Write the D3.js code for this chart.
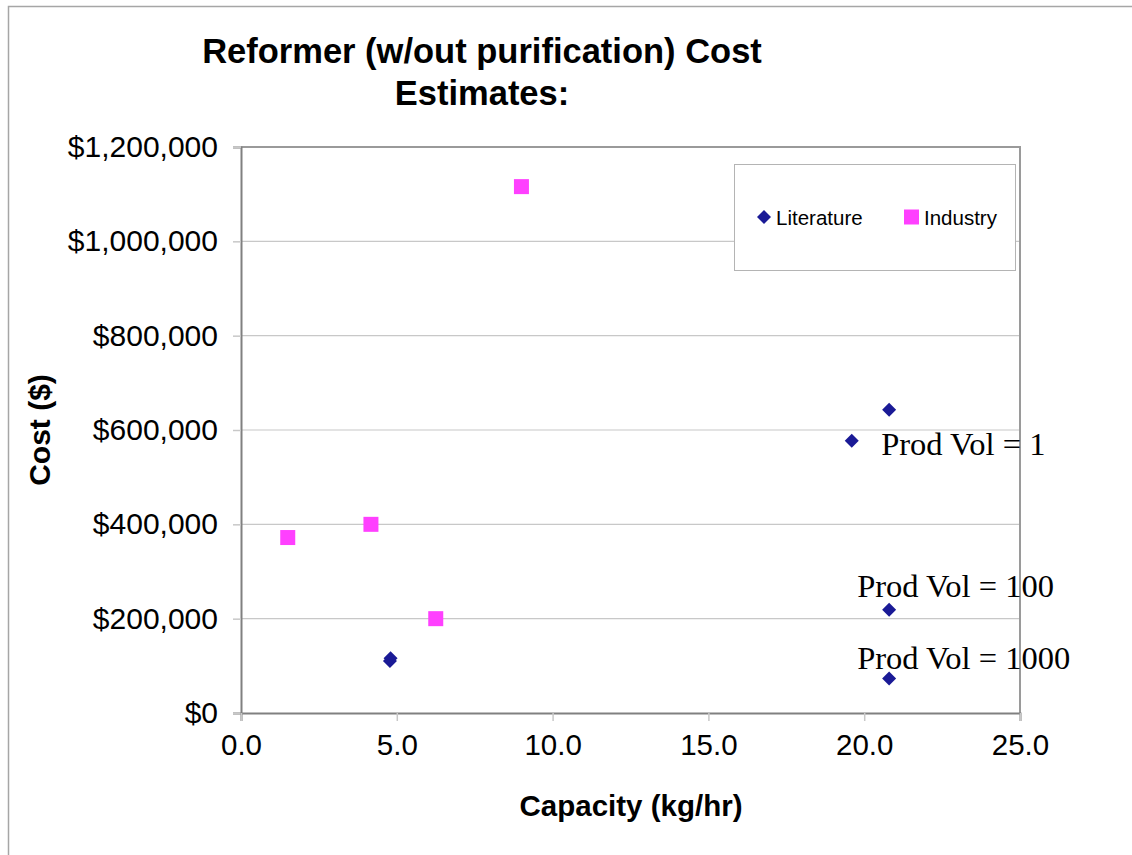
<!DOCTYPE html>
<html><head><meta charset="utf-8">
<script src="https://cdn.jsdelivr.net/npm/d3@7"></script>
<style>body{margin:0;background:#fff}svg{display:block}</style>
</head><body>
<script>
const litX = [4.8, 4.78, 19.6, 20.8, 20.8, 20.8];
const litY = [116000, 110000, 577000, 643000, 219000, 73000];
const indX = [9.0, 1.5, 4.17, 6.25];
const indY = [1116000, 372000, 400000, 200000];
const xTicks = [0, 5, 10, 15, 20, 25];
const yTicks = [0, 200000, 400000, 600000, 800000, 1000000, 1200000];
const annotations = [
  {text: "Prod Vol = 1", x: 20.8, y: 577000, dx: -8, dy: 14},
  {text: "Prod Vol = 100", x: 20.8, y: 219000, dx: -32, dy: -13},
  {text: "Prod Vol = 1000", x: 20.8, y: 73000, dx: -32, dy: -10}
];
const seriesNames = ["Literature", "Industry"];

const W = 1132, H = 855;
const L = 241, R = 1020, T = 147, B = 713;
const svg = d3.select("body").append("svg").attr("width", W).attr("height", H);
svg.append("rect").attr("x",0).attr("y",0).attr("width",W).attr("height",H).attr("fill","#fff");
svg.append("path").attr("d", `M8.5,${H} V6.5 H${W}`).attr("fill","none").attr("stroke","#a6a6a6").attr("stroke-width",1.5);

const x = d3.scaleLinear().domain([0,25]).range([L,R]);
const y = d3.scaleLinear().domain([0,1200000]).range([B,T]);
const sans = "Arial, 'Liberation Sans', sans-serif";

svg.append("g").selectAll("line").data(yTicks.slice(1)).join("line")
  .attr("x1",L).attr("x2",R).attr("y1",d=>y(d)).attr("y2",d=>y(d))
  .attr("stroke","#c8c8c8").attr("stroke-width",1.2);
svg.append("path").attr("d",`M${L},${T} H${R} V${B}`).attr("fill","none").attr("stroke","#9a9a9a").attr("stroke-width",2);

const fmt = d => "$" + d3.format(",")(d);
const ya = svg.append("g").attr("transform",`translate(${L},0)`)
  .call(d3.axisLeft(y).tickValues(yTicks).tickFormat(fmt).tickSize(8).tickPadding(15));
ya.select(".domain").attr("stroke","#808080").attr("stroke-width",2);
ya.selectAll(".tick line").attr("stroke","#c8c8c8").attr("stroke-width",1.5);
ya.selectAll("text").attr("font-family",sans).attr("font-size",30).attr("fill","#000");

const xa = svg.append("g").attr("transform",`translate(0,${B})`)
  .call(d3.axisBottom(x).tickValues(xTicks).tickFormat(d3.format(".1f")).tickSize(8).tickPadding(13));
xa.select(".domain").attr("stroke","#808080").attr("stroke-width",2);
xa.selectAll(".tick line").attr("stroke","#c8c8c8").attr("stroke-width",1.5);
xa.selectAll("text").attr("font-family",sans).attr("font-size",29.5).attr("fill","#000");

const litColor = "#1a1a96", indColor = "#ff40ff";
const diamond = (cx,cy,r) => `M${cx},${cy-r} L${cx+r},${cy} L${cx},${cy+r} L${cx-r},${cy} Z`;
svg.append("g").selectAll("path").data(litX.map((d,i)=>[d,litY[i]])).join("path")
  .attr("d", d => diamond(x(d[0]), y(d[1]), 7)).attr("fill", litColor);
svg.append("g").selectAll("rect").data(indX.map((d,i)=>[d,indY[i]])).join("rect")
  .attr("x", d => x(d[0])-7.5).attr("y", d => y(d[1])-7.5).attr("width",15).attr("height",15)
  .attr("fill", indColor);

svg.append("g").selectAll("text").data(annotations).join("text")
  .attr("x", d => x(d.x)+d.dx).attr("y", d => y(d.y)+d.dy)
  .attr("font-family","'Liberation Serif', 'Times New Roman', serif").attr("font-size",32.5).attr("fill","#000")
  .text(d => d.text);

const lg = svg.append("g");
lg.append("rect").attr("x",734.5).attr("y",164.5).attr("width",281).attr("height",106)
  .attr("fill","#fff").attr("stroke","#b4b4b4").attr("stroke-width",1);
lg.append("path").attr("d", diamond(764,217,7)).attr("fill",litColor);
lg.append("text").attr("x",776).attr("y",225).text(seriesNames[0])
  .attr("font-family",sans).attr("font-size",20.5);
lg.append("rect").attr("x",904).attr("y",209.5).attr("width",15).attr("height",15).attr("fill",indColor);
lg.append("text").attr("x",924).attr("y",225).text(seriesNames[1])
  .attr("font-family",sans).attr("font-size",20.5);

const title = svg.append("text").attr("text-anchor","middle")
  .attr("font-family",sans).attr("font-weight","bold").attr("font-size",34.5);
title.append("tspan").attr("x",482).attr("y",63).text("Reformer (w/out purification) Cost");
title.append("tspan").attr("x",482).attr("y",105).text("Estimates:");

svg.append("text").attr("x",631).attr("y",816).attr("text-anchor","middle")
  .attr("font-family",sans).attr("font-weight","bold").attr("font-size",29.5)
  .text("Capacity (kg/hr)");
svg.append("text").attr("transform","translate(50,430) rotate(-90)").attr("text-anchor","middle")
  .attr("font-family",sans).attr("font-weight","bold").attr("font-size",30)
  .text("Cost ($)");
</script>
</body></html>
